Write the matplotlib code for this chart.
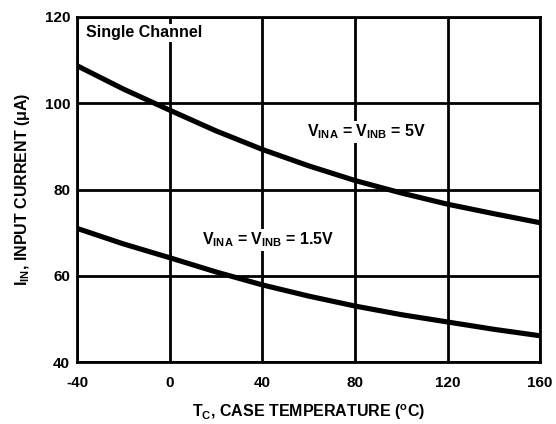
import numpy as np
import matplotlib
matplotlib.use('Agg')
import matplotlib.pyplot as plt

plt.rcParams['font.family'] = ['Liberation Sans', 'DejaVu Sans']
plt.rcParams['font.weight'] = 'bold'
plt.rcParams['axes.unicode_minus'] = False
plt.rcParams['mathtext.fontset'] = 'custom'
plt.rcParams['mathtext.rm'] = 'Liberation Sans:bold'
plt.rcParams['mathtext.it'] = 'Liberation Sans:bold'
plt.rcParams['mathtext.bf'] = 'Liberation Sans:bold'

temp = [-40, -20, 0, 20, 40, 60, 80, 100, 120, 140, 160]
i_5v = [108.7, 103.3, 98.4, 93.6, 89.3, 85.5, 82.1, 79.2, 76.6, 74.4, 72.3]
i_1v5 = [71.0, 67.4, 64.2, 60.9, 57.9, 55.3, 53.0, 51.0, 49.3, 47.6, 46.1]

fig = plt.figure(figsize=(5.56, 4.24), dpi=100)
ax = fig.add_axes([0.1385, 0.146, 0.833, 0.814])

ax.plot(temp, i_5v, color='black', linewidth=3.7, solid_capstyle='butt', zorder=3)
ax.plot(temp, i_1v5, color='black', linewidth=3.7, solid_capstyle='butt', zorder=3)

ax.set_xlim(-40, 160)
ax.set_ylim(40, 120)
ax.set_xticks([-40, 0, 40, 80, 120, 160])
ax.set_yticks([40, 60, 80, 100, 120])
ax.tick_params(length=0, labelsize=11)
ax.tick_params(axis='x', pad=10)
ax.tick_params(axis='y', pad=5)
for lab in ax.get_xticklabels() + ax.get_yticklabels():
    lab.set_fontweight('bold')
ax.grid(True, color='black', linewidth=2, zorder=1)
for s in ax.spines.values():
    s.set_linewidth(2)

ax.set_xlabel(r'T$_{\rm C}$, CASE TEMPERATURE ($^{\rm o}$C)', fontsize=11.5,
              fontweight='bold', labelpad=9)
ax.set_ylabel(r'I$_{\rm IN}$, INPUT CURRENT ($\mu$A)', fontsize=11.5,
              fontweight='bold', labelpad=9)

box = dict(facecolor='white', edgecolor='none', pad=1)
ax.text(-36, 116.3, 'Single Channel', fontsize=11.5, fontweight='bold',
        ha='left', va='center', bbox=box, zorder=4)
ax.text(85, 93.3, r'V$_{\rm INA}$ = V$_{\rm INB}$ = 5V', fontsize=11.5,
        fontweight='bold', ha='center', va='center', bbox=box, zorder=4)
ax.text(42.5, 68.3, r'V$_{\rm INA}$ = V$_{\rm INB}$ = 1.5V', fontsize=11.5,
        fontweight='bold', ha='center', va='center', bbox=box, zorder=4)

fig.savefig('out.png', dpi=100)
